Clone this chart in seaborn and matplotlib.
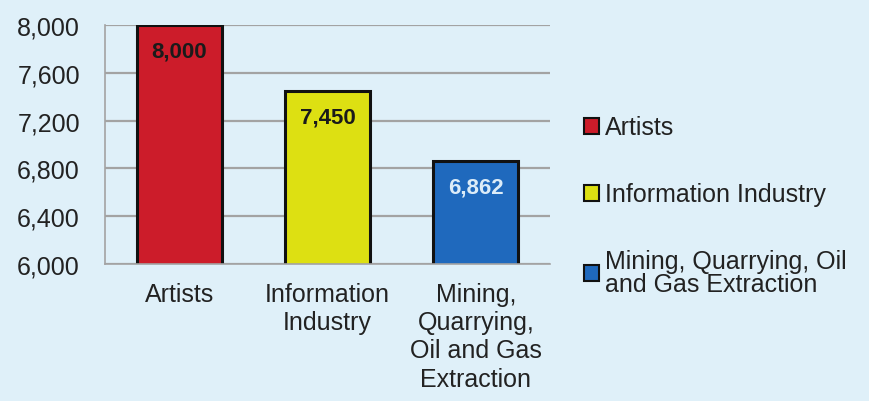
import matplotlib
matplotlib.use("Agg")
import matplotlib.pyplot as plt
import seaborn as sns
import pandas as pd
from matplotlib import ticker
from matplotlib.patches import Patch

categories = ["Artists", "Information Industry", "Mining, Quarrying, Oil and Gas Extraction"]
tick_labels = ["Artists", "Information\nIndustry", "Mining,\nQuarrying,\nOil and Gas\nExtraction"]
legend_labels = ["Artists", "Information Industry", "Mining, Quarrying, Oil\nand Gas Extraction"]
values = [8000, 7450, 6862]
y_ticks = [6000, 6400, 6800, 7200, 7600, 8000]

colors = ["#cc1c2a", "#dde012", "#1f69bd"]
label_colors = ["#1a1a1a", "#1a1a1a", "#dcecf8"]
bg = "#dff0f9"

sns.set_style("white")
plt.rcParams["font.family"] = ["Liberation Sans", "DejaVu Sans"]

df = pd.DataFrame({"category": categories, "value": values})

fig = plt.figure(figsize=(8.69, 4.02), dpi=100)
fig.patch.set_facecolor(bg)
ax = fig.add_axes([105 / 869, 137 / 402, 445 / 869, 239 / 402])
ax.set_facecolor(bg)

sns.barplot(
    data=df,
    x="category",
    y="value",
    hue="category",
    palette=colors,
    saturation=1,
    dodge=False,
    legend=False,
    width=0.575,
    edgecolor="#111111",
    linewidth=2.2,
    ax=ax,
)

ax.set_ylim(6000, 8000)
ax.set_xlim(-0.5, 2.5)
ax.set_yticks(y_ticks)
ax.yaxis.set_major_formatter(ticker.FuncFormatter(lambda v, p: f"{int(v):,}"))
ax.set_xticks(range(len(categories)))
ax.set_xticklabels(tick_labels, fontsize=18, color="#222222", linespacing=1.22)
ax.tick_params(axis="y", labelsize=18, labelcolor="#222222", length=0, pad=18)
ax.tick_params(axis="x", length=0, pad=13)
ax.set_xlabel("")
ax.set_ylabel("")

ax.grid(axis="y", color="#a3a3a3", linewidth=1.6)
ax.set_axisbelow(True)
for side in ["top", "right"]:
    ax.spines[side].set_visible(False)
for side in ["left", "bottom"]:
    ax.spines[side].set_color("#a3a3a3")
    ax.spines[side].set_linewidth(1.2)

for bar, v, c in zip(ax.patches, values, label_colors):
    ax.annotate(
        f"{v:,}",
        (bar.get_x() + bar.get_width() / 2, bar.get_height() + bar.get_y()),
        xytext=(0, -19),
        textcoords="offset points",
        ha="center",
        va="center",
        fontsize=16,
        fontweight="bold",
        color=c,
    )

handles = [Patch(facecolor=c, edgecolor="#111111", linewidth=1.5) for c in colors]
leg = fig.legend(
    handles,
    legend_labels,
    loc="upper left",
    bbox_to_anchor=(561 / 869, 1 - 94 / 402),
    frameon=False,
    fontsize=18,
    handlelength=0.6,
    handleheight=0.6,
    handletextpad=0.25,
    labelspacing=1.72,
    labelcolor="#222222",
)
for t in leg.get_texts():
    t.set_linespacing(0.92)

fig.savefig("out.png", dpi=100, facecolor=bg)
